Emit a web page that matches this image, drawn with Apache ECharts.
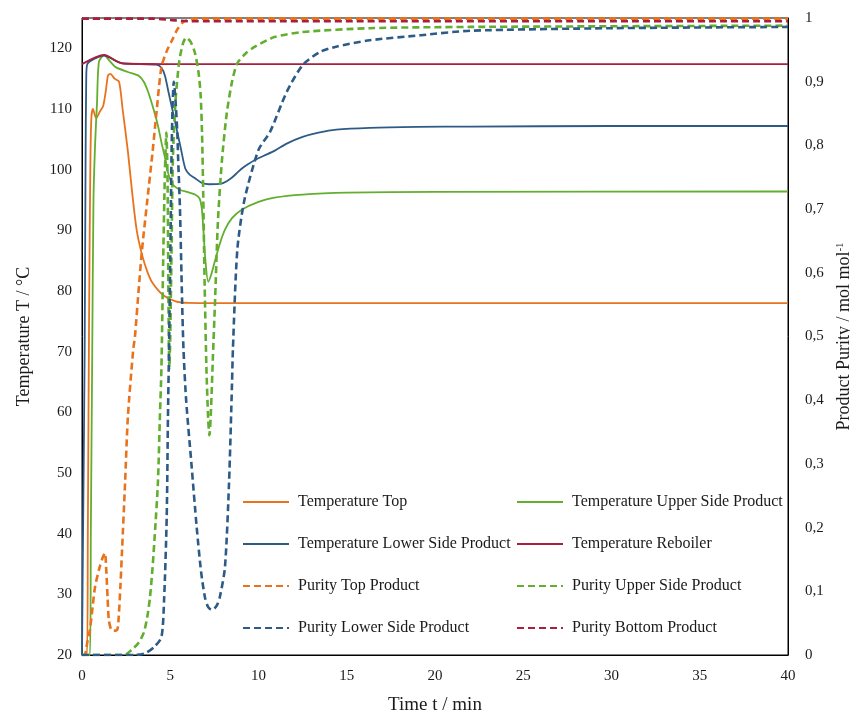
<!DOCTYPE html>
<html>
<head>
    <meta charset="utf-8">
    <title>Column start-up</title>
    <script src="https://cdn.jsdelivr.net/npm/echarts@6/dist/echarts.min.js"></script>
    <style>
        html, body { margin: 0; padding: 0; background: #fff; }
        #chart { width: 850px; height: 711px; }
    </style>
</head>
<body>
<div id="chart"></div>
<script type="text/javascript">
    // [time / min, value]
    var tempTop = [[0,20],[0.28,20],[0.33,40],[0.4,75],[0.47,100],[0.53,108.5],[0.62,110],[0.8,108.5],[1.0,109.5],[1.2,110.5],[1.35,113],[1.47,115.5],[1.6,115.8],[1.85,115],[2.1,114.5],[2.3,110],[2.6,103],[2.85,96],[3.1,90],[3.4,86],[3.7,83.2],[4.0,81.3],[4.6,79.3],[5.3,78.3],[6.0,78.05],[10,78],[40,78]];
    var tempUpper = [[0,20],[0.45,20],[0.5,40],[0.58,70],[0.65,95],[0.74,104],[0.85,111],[0.96,117.8],[1.25,118.9],[1.6,117.8],[1.9,116.9],[2.6,116.1],[3.2,115.5],[3.5,114.5],[3.75,112.8],[4.05,110],[4.3,107.3],[4.5,104.5],[4.7,102],[4.85,99.8],[5.05,98],[5.27,97.2],[5.6,96.6],[6.0,96.3],[6.4,95.9],[6.65,95.3],[6.78,93.8],[6.88,90],[6.98,85.5],[7.15,81.5],[7.3,82.5],[7.5,84.6],[7.8,87.7],[8.1,90.1],[8.5,92],[9.05,93.4],[10,94.7],[10.9,95.4],[12.5,95.9],[15,96.2],[20,96.35],[40,96.4]];
    var tempLower = [[0,20],[0.06,40],[0.15,70],[0.2,100],[0.24,115],[0.3,117.4],[1.25,118.8],[2.2,117.6],[4.2,117.3],[4.5,116.8],[4.7,115.5],[4.9,112.8],[5.25,108.2],[5.6,103.5],[5.85,100.2],[6.1,99.2],[6.4,98.6],[6.8,97.8],[7.2,97.6],[7.9,97.7],[8.2,98.1],[8.5,98.7],[8.8,99.5],[9.06,100.2],[9.4,100.9],[9.8,101.6],[10.3,102.3],[10.9,103.1],[11.6,104.3],[12.5,105.4],[13.4,106.1],[14.4,106.6],[16.3,106.9],[19,107.05],[22,107.1],[30,107.2],[40,107.2]];
    var tempReboiler = [[0,117.4],[1.25,118.9],[2.3,117.5],[5,117.4],[40,117.4]];

    var purityTop = [[0,0],[0.15,0],[0.3,0.02],[0.45,0.04],[0.6,0.075],[0.74,0.107],[1.0,0.138],[1.2,0.155],[1.3,0.16],[1.38,0.13],[1.45,0.09],[1.52,0.055],[1.65,0.04],[1.8,0.038],[2.0,0.04],[2.08,0.06],[2.18,0.11],[2.27,0.165],[2.44,0.27],[2.6,0.374],[2.9,0.479],[3.0,0.5],[3.2,0.57],[3.4,0.636],[3.7,0.714],[4.0,0.79],[4.25,0.86],[4.5,0.923],[4.8,0.948],[5.1,0.965],[5.4,0.982],[5.67,0.992],[6.0,0.997],[6.4,0.999],[10,0.999],[40,0.999]];
    var purityUpper = [[0,0],[2.4,0],[2.8,0.008],[3.2,0.019],[3.5,0.035],[3.7,0.06],[3.85,0.09],[4.0,0.138],[4.15,0.2],[4.3,0.27],[4.42,0.38],[4.5,0.45],[4.6,0.62],[4.7,0.76],[4.78,0.82],[4.85,0.74],[4.9,0.55],[4.95,0.45],[5.0,0.5],[5.08,0.65],[5.15,0.78],[5.3,0.87],[5.5,0.93],[5.7,0.958],[5.9,0.969],[6.15,0.963],[6.4,0.945],[6.6,0.915],[6.72,0.88],[6.8,0.82],[6.87,0.72],[6.95,0.58],[7.05,0.45],[7.15,0.37],[7.22,0.345],[7.3,0.38],[7.42,0.47],[7.54,0.557],[7.7,0.68],[7.93,0.777],[8.2,0.85],[8.5,0.9],[8.8,0.929],[9.3,0.945],[9.8,0.955],[10.9,0.97],[12.5,0.978],[16.3,0.984],[22,0.986],[40,0.988]];
    var purityLower = [[0,0],[3.0,0],[3.6,0.003],[4.1,0.013],[4.5,0.028],[4.65,0.086],[4.8,0.217],[4.87,0.374],[4.93,0.48],[5.0,0.62],[5.07,0.78],[5.13,0.86],[5.2,0.9],[5.3,0.87],[5.4,0.82],[5.45,0.777],[5.55,0.7],[5.67,0.557],[5.75,0.48],[5.9,0.4],[6.2,0.3],[6.5,0.2],[6.75,0.13],[6.97,0.09],[7.15,0.075],[7.35,0.071],[7.6,0.076],[7.8,0.09],[8.1,0.138],[8.33,0.27],[8.5,0.427],[8.55,0.48],[8.8,0.636],[9.2,0.714],[10,0.793],[10.65,0.821],[11.6,0.884],[12.5,0.926],[13.5,0.947],[14.4,0.955],[16.3,0.965],[19.2,0.973],[22,0.98],[30,0.984],[40,0.986]];
    var purityBottom = [[0,0.999],[4,0.999],[5,0.997],[6,0.995],[40,0.995]];

    var names = ['Temperature Top', 'Temperature Upper Side Product', 'Temperature Lower Side Product', 'Temperature Reboiler',
                 'Purity Top Product', 'Purity Upper Side Product', 'Purity Lower Side Product', 'Purity Bottom Product'];
    var colors = ['#E8731C', '#62AE2E', '#2D5B86', '#A8203E'];

    var serif = 'Liberation Serif';

    function line(name, data, color, axis, dashed) {
        return {
            name: name,
            type: 'line',
            yAxisIndex: axis,
            data: data,
            symbol: 'none',
            smooth: 0.25,
            color: color,
            lineStyle: dashed ? { color: color, width: 2.6, type: [7, 4] } : { color: color, width: 1.8 }
        };
    }

    var legendText = { fontFamily: serif, fontSize: 16, color: '#1a1a1a', padding: [0, 0, 0, 4] };
    var legendBase = {
        orient: 'vertical', top: 489, itemWidth: 46, itemHeight: 14, itemGap: 26,
        itemStyle: { opacity: 0, borderWidth: 0 },
        textStyle: legendText
    };

    var chart = echarts.init(document.getElementById('chart'));
    chart.setOption({
        animation: false,
        backgroundColor: '#fff',
        grid: { left: 82, right: 62, top: 18, bottom: 56, show: true, borderColor: '#000', borderWidth: 1,
                outerBoundsMode: 'none', containLabel: false },
        legend: [
            Object.assign({ left: 237, data: [names[0], names[2], names[4], names[6]] }, legendBase),
            Object.assign({ left: 511, data: [names[1], names[3], names[5], names[7]] }, legendBase)
        ],
        xAxis: {
            type: 'value', min: 0, max: 40, interval: 5,
            name: 'Time t / min', nameLocation: 'middle', nameGap: 41,
            nameTextStyle: { fontFamily: serif, fontSize: 19, color: '#1a1a1a' },
            axisLine: { lineStyle: { color: '#000' } },
            axisTick: { show: false },
            splitLine: { show: false },
            axisLabel: { fontFamily: serif, fontSize: 15, color: '#1a1a1a', margin: 14 }
        },
        yAxis: [{
            type: 'value', min: 20, max: 125, interval: 10,
            name: 'Temperature T / °C', nameLocation: 'middle', nameGap: 49, nameRotate: 90,
            nameTextStyle: { fontFamily: serif, fontSize: 18, color: '#1a1a1a' },
            axisLine: { show: true, lineStyle: { color: '#000' } },
            axisTick: { show: false },
            splitLine: { show: false },
            axisLabel: { fontFamily: serif, fontSize: 15, color: '#1a1a1a', margin: 10, showMaxLabel: false }
        }, {
            type: 'value', min: 0, max: 1, interval: 0.1, position: 'right',
            name: 'Product Purity / mol mol{sup|-1}', nameLocation: 'middle', nameGap: 43, nameRotate: 90,
            nameTextStyle: { fontFamily: serif, fontSize: 18, color: '#1a1a1a',
                rich: { sup: { fontFamily: serif, fontSize: 11, color: '#1a1a1a', verticalAlign: 'top', padding: [0, 0, 8, 0] } } },
            axisLine: { show: true, lineStyle: { color: '#000' } },
            axisTick: { show: false },
            splitLine: { show: false },
            axisLabel: {
                fontFamily: serif, fontSize: 15, color: '#1a1a1a', margin: 17,
                formatter: function (v) {
                    if (v === 0 || v === 1) return String(v);
                    return v.toFixed(1).replace('.', ',');
                }
            }
        }],
        series: [
            line(names[0], tempTop, colors[0], 0, false),
            line(names[1], tempUpper, colors[1], 0, false),
            line(names[2], tempLower, colors[2], 0, false),
            line(names[3], tempReboiler, colors[3], 0, false),
            line(names[4], purityTop, colors[0], 1, true),
            line(names[5], purityUpper, colors[1], 1, true),
            line(names[6], purityLower, colors[2], 1, true),
            line(names[7], purityBottom, colors[3], 1, true)
        ]
    });
</script>
</body>
</html>
